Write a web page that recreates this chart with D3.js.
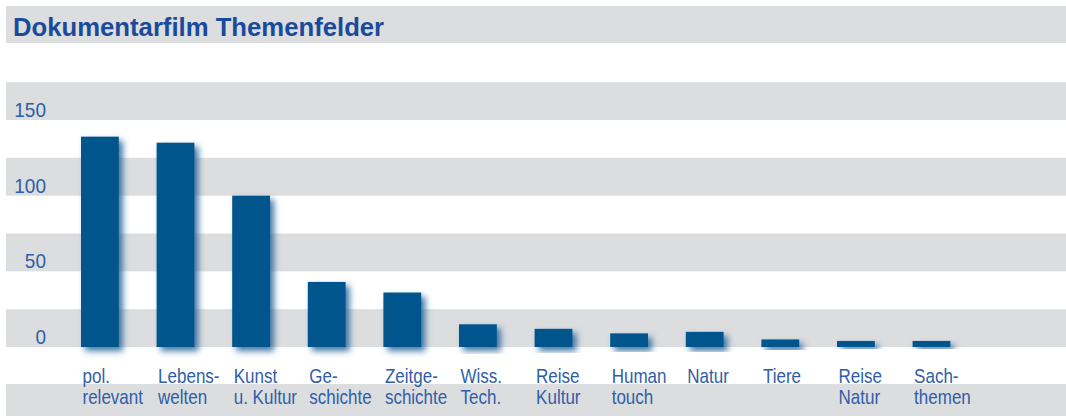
<!DOCTYPE html>
<html>
<head>
<meta charset="utf-8">
<script src="https://cdn.jsdelivr.net/npm/d3@7"></script>
<style>
  html, body { margin: 0; padding: 0; background: #fff; }
  svg { display: block; }
</style>
</head>
<body>
<svg id="app"></svg>
<script>
const categories = [
    ["pol.", "relevant"],
    ["Lebens-", "welten"],
    ["Kunst", "u. Kultur"],
    ["Ge-", "schichte"],
    ["Zeitge-", "schichte"],
    ["Wiss.", "Tech."],
    ["Reise", "Kultur"],
    ["Human", "touch"],
    ["Natur"],
    ["Tiere"],
    ["Reise", "Natur"],
    ["Sach-", "themen"]
];
const values = [139, 135, 100, 43, 36, 15, 12, 9, 10, 5, 4, 4];
const yTicks = [0, 50, 100, 150];
const title = "Dokumentarfilm Themenfelder";

const width = 1066, height = 416;
const bandGray = "#dcdddf";
const barColor = "#00558c";
const textBlue = "#2f5ea8";
const sans = "'Liberation Sans', Arial, sans-serif";

const svg = d3.select("#app")
    .attr("width", width)
    .attr("height", height);

const defs = svg.append("defs");
const shadow = defs.append("filter")
    .attr("id", "shadow")
    .attr("x", "-30%").attr("y", "-30%")
    .attr("width", "160%").attr("height", "160%");
shadow.append("feDropShadow")
    .attr("dx", 4).attr("dy", 4)
    .attr("stdDeviation", 3)
    .attr("flood-color", "#1d5f98")
    .attr("flood-opacity", 0.85);

const y = d3.scaleLinear().domain([0, 150]).range([347, 120]);
const x = d3.scaleBand()
    .domain(d3.range(categories.length))
    .range([81, 950.4])
    .paddingInner(0.5)
    .paddingOuter(0);

// title band
svg.append("rect")
    .attr("x", 6).attr("y", 6)
    .attr("width", width - 6).attr("height", 37)
    .attr("fill", bandGray);

svg.append("text")
    .attr("x", 13).attr("y", 36)
    .attr("font-family", sans)
    .attr("font-weight", "bold")
    .attr("font-size", 25.7)
    .attr("fill", "#1a4b9b")
    .text(title);

// horizontal stripes (gray from each tick up 25 units)
svg.append("g").selectAll("rect")
    .data(yTicks)
    .join("rect")
    .attr("x", 6)
    .attr("y", d => y(d + 25))
    .attr("width", width - 6)
    .attr("height", d => y(d) - y(d + 25))
    .attr("fill", bandGray);

// label band below axis
svg.append("rect")
    .attr("x", 6).attr("y", y(-24.5))
    .attr("width", width - 6).attr("height", height - y(-24.5))
    .attr("fill", bandGray);

// y labels
svg.append("g").selectAll("text")
    .data(yTicks)
    .join("text")
    .attr("transform", d => `translate(46,${y(d) - 3}) scale(0.95,1)`)
    .attr("text-anchor", "end")
    .attr("font-family", sans)
    .attr("font-size", 20)
    .attr("fill", textBlue)
    .text(d => d);

// bars
svg.append("g").selectAll("rect")
    .data(values)
    .join("rect")
    .attr("x", (d, i) => x(i))
    .attr("y", d => y(d))
    .attr("width", x.bandwidth())
    .attr("height", d => y(0) - y(d))
    .attr("fill", barColor)
    .attr("filter", "url(#shadow)");

// x labels
const lbl = svg.append("g").selectAll("text")
    .data(categories)
    .join("text")
    .attr("transform", (d, i) => `translate(${x(i) + 1.5},383) scale(0.81,1)`)
    .attr("font-family", sans)
    .attr("font-size", 21)
    .attr("fill", textBlue);

lbl.selectAll("tspan")
    .data(d => d)
    .join("tspan")
    .attr("x", 0)
    .attr("dy", (d, i) => i === 0 ? 0 : 21)
    .text(d => d);
</script>
</body>
</html>
